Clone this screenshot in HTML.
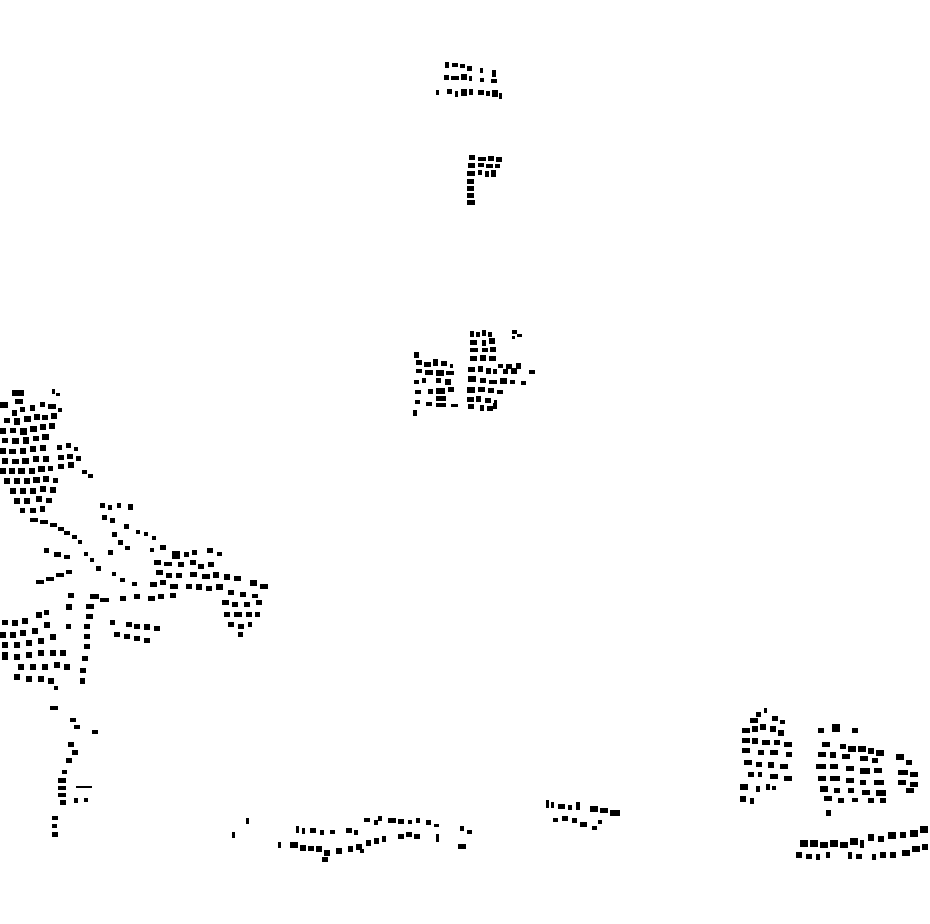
<!DOCTYPE html>
<html><head><meta charset="utf-8"><style>html,body{margin:0;padding:0;background:#fff}svg{display:block}</style></head>
<body>
<svg width="930" height="924" viewBox="0 0 930 924" xmlns="http://www.w3.org/2000/svg" fill="#000">
<!-- top cluster -->
<g>
<rect x="445" y="62" width="4" height="6"/><rect x="452" y="63" width="6" height="4"/><rect x="460" y="64" width="5" height="4"/><rect x="467" y="66" width="5" height="5"/><rect x="480" y="68" width="3" height="5"/><rect x="492" y="70" width="4" height="7"/>
<rect x="444" y="75" width="5" height="5"/><rect x="451" y="76" width="8" height="4"/><rect x="461" y="74" width="6" height="6"/><rect x="469" y="76" width="3" height="5"/><rect x="480" y="78" width="4" height="4"/><rect x="491" y="79" width="6" height="4"/>
<rect x="436" y="90" width="3" height="5"/><rect x="447" y="89" width="5" height="5"/><rect x="455" y="91" width="3" height="6"/><rect x="461" y="89" width="6" height="7"/><rect x="469" y="89" width="4" height="6"/><rect x="478" y="90" width="6" height="5"/><rect x="486" y="91" width="4" height="5"/><rect x="492" y="90" width="6" height="7"/><rect x="499" y="93" width="3" height="6"/>
</g>
<!-- second cluster -->
<g>
<rect x="469" y="155" width="6" height="5"/><rect x="478" y="157" width="8" height="4"/><rect x="488" y="156" width="6" height="5"/><rect x="496" y="157" width="6" height="5"/>
<rect x="468" y="163" width="7" height="5"/><rect x="478" y="163" width="6" height="4"/><rect x="486" y="164" width="7" height="4"/><rect x="495" y="164" width="5" height="4"/>
<rect x="467" y="171" width="8" height="5"/><rect x="478" y="170" width="4" height="5"/><rect x="485" y="171" width="4" height="6"/><rect x="491" y="170" width="5" height="7"/>
<rect x="467" y="179" width="7" height="5"/><rect x="467" y="186" width="7" height="5"/><rect x="467" y="193" width="7" height="5"/><rect x="467" y="200" width="8" height="5"/>
</g>
<!-- middle cluster -->
<g>
<rect x="470" y="331" width="4" height="6"/><rect x="476" y="332" width="4" height="5"/><rect x="482" y="330" width="4" height="6"/><rect x="488" y="332" width="4" height="5"/><rect x="512" y="330" width="5" height="4"/><rect x="517" y="334" width="5" height="3"/><rect x="512" y="336" width="3" height="3"/>
<rect x="414" y="352" width="5" height="6"/><rect x="470" y="340" width="7" height="5"/><rect x="482" y="340" width="4" height="6"/><rect x="489" y="338" width="6" height="6"/>
<rect x="470" y="348" width="8" height="4"/><rect x="482" y="348" width="6" height="4"/><rect x="490" y="347" width="6" height="5"/>
<rect x="416" y="360" width="6" height="5"/><rect x="424" y="362" width="7" height="5"/><rect x="433" y="359" width="5" height="7"/><rect x="441" y="361" width="6" height="5"/><rect x="450" y="364" width="3" height="4"/><rect x="470" y="356" width="7" height="5"/><rect x="480" y="355" width="6" height="6"/><rect x="489" y="356" width="7" height="5"/><rect x="498" y="364" width="5" height="4"/><rect x="506" y="364" width="6" height="5"/><rect x="516" y="363" width="5" height="6"/>
<rect x="416" y="369" width="6" height="4"/><rect x="425" y="370" width="8" height="5"/><rect x="436" y="370" width="8" height="6"/><rect x="446" y="371" width="8" height="4"/><rect x="468" y="367" width="7" height="5"/><rect x="478" y="366" width="5" height="6"/><rect x="486" y="368" width="5" height="6"/><rect x="493" y="369" width="4" height="5"/><rect x="503" y="369" width="5" height="5"/><rect x="511" y="368" width="6" height="6"/><rect x="529" y="370" width="6" height="4"/>
<rect x="414" y="380" width="5" height="4"/><rect x="422" y="378" width="4" height="5"/><rect x="436" y="378" width="5" height="5"/><rect x="445" y="379" width="6" height="6"/><rect x="468" y="376" width="8" height="6"/><rect x="480" y="378" width="6" height="5"/><rect x="489" y="380" width="8" height="4"/><rect x="500" y="378" width="7" height="6"/><rect x="510" y="380" width="5" height="4"/><rect x="521" y="381" width="5" height="4"/>
<rect x="415" y="390" width="6" height="4"/><rect x="428" y="389" width="5" height="5"/><rect x="436" y="388" width="9" height="6"/><rect x="448" y="387" width="6" height="5"/><rect x="467" y="387" width="8" height="6"/><rect x="478" y="387" width="7" height="5"/><rect x="488" y="388" width="6" height="5"/><rect x="497" y="390" width="6" height="4"/>
<rect x="415" y="400" width="5" height="4"/><rect x="426" y="402" width="6" height="4"/><rect x="436" y="396" width="10" height="5"/><rect x="451" y="404" width="7" height="3"/><rect x="467" y="397" width="7" height="5"/><rect x="476" y="396" width="5" height="6"/><rect x="485" y="398" width="6" height="5"/><rect x="494" y="400" width="3" height="4"/>
<rect x="413" y="410" width="4" height="6"/><rect x="436" y="403" width="10" height="4"/><rect x="468" y="404" width="6" height="5"/><rect x="480" y="405" width="4" height="6"/><rect x="487" y="406" width="6" height="5"/><rect x="493" y="403" width="4" height="6"/>
</g>
<!-- left big cluster -->
<g>
<rect x="12" y="390" width="12" height="6"/><rect x="0" y="402" width="8" height="6"/><rect x="15" y="399" width="8" height="5"/><rect x="52" y="389" width="3" height="5"/><rect x="56" y="393" width="4" height="3"/>
<rect x="12" y="410" width="5" height="6"/><rect x="20" y="407" width="5" height="5"/><rect x="30" y="405" width="5" height="6"/><rect x="40" y="402" width="5" height="5"/><rect x="48" y="404" width="8" height="5"/><rect x="58" y="408" width="4" height="4"/>
<rect x="4" y="418" width="6" height="5"/><rect x="14" y="418" width="6" height="7"/><rect x="24" y="416" width="7" height="6"/><rect x="34" y="414" width="6" height="6"/><rect x="42" y="415" width="6" height="5"/><rect x="51" y="413" width="6" height="6"/>
<rect x="0" y="428" width="6" height="6"/><rect x="10" y="428" width="6" height="5"/><rect x="20" y="428" width="7" height="7"/><rect x="30" y="426" width="7" height="6"/><rect x="40" y="424" width="6" height="6"/><rect x="49" y="423" width="6" height="6"/>
<rect x="2" y="438" width="6" height="5"/><rect x="12" y="438" width="7" height="6"/><rect x="23" y="437" width="6" height="7"/><rect x="33" y="436" width="6" height="5"/><rect x="42" y="434" width="7" height="6"/><rect x="57" y="445" width="5" height="5"/><rect x="66" y="443" width="5" height="5"/><rect x="74" y="447" width="4" height="4"/>
<rect x="0" y="448" width="6" height="6"/><rect x="9" y="449" width="7" height="5"/><rect x="20" y="448" width="6" height="6"/><rect x="30" y="446" width="6" height="6"/><rect x="40" y="445" width="6" height="6"/><rect x="58" y="455" width="6" height="5"/><rect x="67" y="454" width="6" height="5"/><rect x="76" y="456" width="5" height="5"/>
<rect x="2" y="458" width="6" height="6"/><rect x="12" y="459" width="7" height="5"/><rect x="22" y="458" width="7" height="6"/><rect x="33" y="456" width="6" height="6"/><rect x="43" y="456" width="6" height="6"/><rect x="58" y="464" width="6" height="5"/><rect x="68" y="462" width="6" height="6"/><rect x="82" y="470" width="5" height="4"/><rect x="88" y="474" width="5" height="4"/>
<rect x="0" y="468" width="6" height="6"/><rect x="9" y="468" width="6" height="6"/><rect x="18" y="468" width="7" height="6"/><rect x="29" y="468" width="6" height="6"/><rect x="38" y="466" width="7" height="6"/><rect x="48" y="466" width="5" height="5"/>
<rect x="4" y="478" width="6" height="6"/><rect x="14" y="478" width="6" height="6"/><rect x="24" y="478" width="6" height="6"/><rect x="33" y="477" width="7" height="6"/><rect x="43" y="476" width="6" height="6"/><rect x="53" y="478" width="5" height="5"/>
<rect x="10" y="488" width="6" height="6"/><rect x="20" y="488" width="6" height="6"/><rect x="30" y="488" width="6" height="6"/><rect x="40" y="486" width="6" height="6"/><rect x="50" y="487" width="6" height="6"/>
<rect x="14" y="498" width="6" height="6"/><rect x="24" y="498" width="6" height="6"/><rect x="36" y="496" width="6" height="6"/><rect x="46" y="498" width="6" height="5"/>
<rect x="20" y="508" width="5" height="5"/><rect x="30" y="508" width="6" height="5"/><rect x="40" y="506" width="5" height="6"/>
<rect x="30" y="518" width="8" height="4"/><rect x="40" y="520" width="8" height="4"/><rect x="50" y="523" width="7" height="4"/><rect x="58" y="527" width="6" height="4"/><rect x="64" y="531" width="6" height="4"/><rect x="72" y="535" width="5" height="4"/><rect x="78" y="540" width="4" height="4"/>
<rect x="100" y="503" width="5" height="5"/><rect x="108" y="505" width="4" height="5"/><rect x="117" y="503" width="4" height="5"/><rect x="128" y="504" width="5" height="6"/>
<rect x="102" y="515" width="5" height="5"/><rect x="110" y="518" width="5" height="5"/><rect x="124" y="524" width="5" height="5"/><rect x="136" y="530" width="4" height="4"/><rect x="144" y="532" width="4" height="4"/><rect x="152" y="536" width="4" height="4"/>
<rect x="112" y="532" width="5" height="5"/><rect x="118" y="540" width="5" height="5"/><rect x="125" y="546" width="5" height="4"/><rect x="150" y="548" width="4" height="4"/><rect x="160" y="545" width="6" height="5"/>
<rect x="44" y="548" width="5" height="5"/><rect x="54" y="552" width="7" height="5"/><rect x="64" y="555" width="6" height="4"/><rect x="84" y="552" width="4" height="4"/><rect x="90" y="558" width="4" height="4"/><rect x="108" y="550" width="5" height="5"/>
<rect x="172" y="551" width="8" height="8"/><rect x="184" y="552" width="5" height="5"/><rect x="192" y="550" width="5" height="5"/><rect x="207" y="548" width="6" height="5"/><rect x="217" y="552" width="5" height="4"/>
<rect x="154" y="560" width="7" height="5"/><rect x="164" y="562" width="8" height="4"/><rect x="178" y="562" width="6" height="5"/><rect x="190" y="560" width="6" height="5"/><rect x="198" y="564" width="6" height="5"/><rect x="208" y="562" width="6" height="5"/>
<rect x="36" y="580" width="8" height="4"/><rect x="46" y="577" width="8" height="4"/><rect x="56" y="573" width="8" height="4"/><rect x="66" y="570" width="6" height="4"/><rect x="96" y="566" width="5" height="5"/><rect x="112" y="572" width="4" height="4"/><rect x="120" y="578" width="5" height="4"/><rect x="132" y="582" width="5" height="4"/>
<rect x="156" y="570" width="7" height="5"/><rect x="166" y="573" width="6" height="5"/><rect x="176" y="573" width="6" height="5"/><rect x="190" y="572" width="7" height="5"/><rect x="202" y="574" width="8" height="5"/><rect x="213" y="572" width="6" height="6"/><rect x="224" y="574" width="6" height="6"/><rect x="234" y="576" width="7" height="5"/><rect x="250" y="580" width="7" height="6"/><rect x="260" y="584" width="8" height="5"/>
<rect x="150" y="582" width="7" height="5"/><rect x="160" y="580" width="6" height="5"/><rect x="170" y="584" width="8" height="5"/><rect x="186" y="584" width="6" height="5"/><rect x="196" y="584" width="6" height="6"/><rect x="206" y="586" width="6" height="5"/><rect x="216" y="584" width="7" height="6"/><rect x="228" y="590" width="6" height="5"/><rect x="240" y="592" width="6" height="5"/><rect x="252" y="594" width="6" height="4"/>
<rect x="90" y="594" width="9" height="5"/><rect x="100" y="598" width="9" height="4"/><rect x="68" y="593" width="6" height="5"/><rect x="120" y="596" width="6" height="5"/><rect x="134" y="594" width="6" height="5"/><rect x="148" y="596" width="7" height="5"/><rect x="158" y="594" width="6" height="5"/><rect x="170" y="593" width="6" height="5"/>
<rect x="222" y="600" width="7" height="5"/><rect x="232" y="602" width="6" height="5"/><rect x="244" y="602" width="6" height="5"/><rect x="256" y="600" width="6" height="5"/>
<rect x="66" y="604" width="6" height="6"/><rect x="86" y="604" width="8" height="5"/><rect x="224" y="612" width="6" height="5"/><rect x="234" y="612" width="8" height="5"/><rect x="246" y="612" width="6" height="5"/><rect x="255" y="612" width="5" height="5"/>
<rect x="2" y="620" width="6" height="5"/><rect x="12" y="620" width="6" height="6"/><rect x="22" y="618" width="6" height="6"/><rect x="36" y="612" width="6" height="6"/><rect x="44" y="610" width="5" height="5"/><rect x="86" y="614" width="7" height="5"/><rect x="110" y="620" width="5" height="5"/><rect x="126" y="622" width="6" height="5"/><rect x="134" y="624" width="6" height="5"/><rect x="144" y="624" width="6" height="6"/><rect x="154" y="626" width="6" height="5"/><rect x="228" y="622" width="6" height="5"/><rect x="238" y="624" width="6" height="5"/><rect x="248" y="622" width="4" height="5"/>
<rect x="0" y="632" width="6" height="6"/><rect x="10" y="632" width="6" height="6"/><rect x="20" y="630" width="6" height="6"/><rect x="32" y="628" width="6" height="6"/><rect x="44" y="622" width="6" height="6"/><rect x="66" y="624" width="5" height="5"/><rect x="84" y="624" width="6" height="5"/><rect x="114" y="632" width="6" height="5"/><rect x="124" y="634" width="6" height="5"/><rect x="134" y="636" width="6" height="5"/><rect x="144" y="638" width="6" height="5"/><rect x="238" y="632" width="5" height="5"/>
<rect x="2" y="642" width="6" height="6"/><rect x="14" y="642" width="6" height="6"/><rect x="26" y="640" width="6" height="6"/><rect x="38" y="638" width="6" height="6"/><rect x="50" y="634" width="6" height="6"/><rect x="84" y="634" width="6" height="5"/>
<rect x="2" y="652" width="6" height="8"/><rect x="14" y="654" width="6" height="6"/><rect x="26" y="652" width="6" height="6"/><rect x="38" y="650" width="6" height="6"/><rect x="50" y="650" width="6" height="6"/><rect x="60" y="650" width="6" height="6"/><rect x="84" y="644" width="6" height="5"/>
<rect x="18" y="664" width="6" height="6"/><rect x="30" y="664" width="6" height="6"/><rect x="42" y="664" width="6" height="6"/><rect x="54" y="662" width="6" height="6"/><rect x="64" y="664" width="6" height="6"/><rect x="82" y="656" width="6" height="5"/>
<rect x="14" y="674" width="6" height="6"/><rect x="26" y="676" width="6" height="6"/><rect x="38" y="676" width="6" height="6"/><rect x="48" y="678" width="6" height="6"/><rect x="80" y="668" width="6" height="5"/><rect x="80" y="678" width="5" height="6"/><rect x="54" y="686" width="4" height="4"/>
<!-- tail -->
<rect x="50" y="706" width="8" height="4"/><rect x="70" y="718" width="6" height="4"/><rect x="74" y="725" width="6" height="4"/><rect x="92" y="730" width="6" height="4"/>
<rect x="68" y="742" width="6" height="5"/><rect x="72" y="750" width="6" height="5"/><rect x="66" y="758" width="6" height="5"/><rect x="62" y="770" width="5" height="4"/>
<rect x="58" y="778" width="8" height="5"/><rect x="58" y="786" width="8" height="4"/><rect x="58" y="793" width="8" height="4"/><rect x="76" y="786" width="16" height="2"/><rect x="60" y="800" width="6" height="5"/><rect x="74" y="798" width="4" height="5"/><rect x="84" y="798" width="4" height="4"/>
<rect x="52" y="816" width="6" height="4"/><rect x="52" y="824" width="5" height="4"/><rect x="52" y="832" width="6" height="5"/>
</g>
<!-- bottom middle cluster -->
<g>
<rect x="246" y="818" width="3" height="6"/><rect x="232" y="832" width="3" height="6"/><rect x="278" y="842" width="3" height="6"/>
<rect x="296" y="826" width="3" height="7"/><rect x="302" y="828" width="3" height="6"/><rect x="310" y="828" width="6" height="5"/><rect x="320" y="830" width="4" height="5"/><rect x="330" y="830" width="5" height="4"/><rect x="346" y="828" width="6" height="5"/><rect x="354" y="830" width="4" height="5"/>
<rect x="364" y="818" width="6" height="4"/><rect x="374" y="820" width="4" height="5"/><rect x="378" y="816" width="4" height="5"/><rect x="388" y="818" width="8" height="5"/><rect x="398" y="819" width="6" height="5"/><rect x="408" y="820" width="4" height="4"/><rect x="416" y="818" width="4" height="5"/><rect x="426" y="820" width="5" height="5"/><rect x="434" y="824" width="5" height="3"/><rect x="460" y="826" width="4" height="5"/><rect x="467" y="830" width="5" height="4"/>
<rect x="290" y="842" width="8" height="6"/><rect x="300" y="845" width="6" height="6"/><rect x="308" y="846" width="6" height="5"/><rect x="316" y="846" width="6" height="6"/><rect x="324" y="850" width="6" height="6"/><rect x="336" y="848" width="6" height="6"/><rect x="348" y="846" width="5" height="6"/><rect x="356" y="844" width="6" height="6"/><rect x="366" y="840" width="5" height="6"/><rect x="374" y="838" width="5" height="6"/><rect x="382" y="836" width="4" height="6"/><rect x="398" y="834" width="6" height="5"/><rect x="406" y="832" width="6" height="5"/><rect x="414" y="834" width="6" height="5"/><rect x="436" y="834" width="3" height="8"/><rect x="458" y="844" width="8" height="5"/><rect x="322" y="857" width="6" height="5"/><rect x="360" y="849" width="4" height="4"/>
</g>
<!-- bottom center small cluster -->
<g>
<rect x="546" y="800" width="3" height="8"/><rect x="551" y="802" width="3" height="6"/><rect x="558" y="804" width="7" height="5"/><rect x="568" y="805" width="4" height="5"/><rect x="576" y="802" width="4" height="8"/><rect x="590" y="806" width="8" height="6"/><rect x="600" y="808" width="8" height="5"/><rect x="610" y="810" width="10" height="6"/>
<rect x="553" y="818" width="5" height="4"/><rect x="562" y="816" width="6" height="5"/><rect x="572" y="818" width="5" height="5"/><rect x="580" y="822" width="7" height="5"/><rect x="592" y="826" width="5" height="4"/><rect x="598" y="820" width="4" height="4"/>
</g>
<!-- right cluster -->
<g>
<rect x="756" y="712" width="5" height="5"/><rect x="764" y="708" width="3" height="5"/><rect x="772" y="716" width="6" height="5"/><rect x="780" y="720" width="5" height="4"/><rect x="750" y="718" width="8" height="5"/>
<rect x="742" y="728" width="8" height="5"/><rect x="752" y="726" width="6" height="6"/><rect x="760" y="724" width="6" height="6"/><rect x="770" y="726" width="6" height="6"/><rect x="778" y="730" width="6" height="6"/><rect x="832" y="724" width="8" height="8"/><rect x="852" y="728" width="6" height="5"/><rect x="818" y="728" width="6" height="5"/>
<rect x="742" y="738" width="8" height="5"/><rect x="752" y="738" width="6" height="6"/><rect x="762" y="740" width="8" height="5"/><rect x="774" y="740" width="6" height="5"/><rect x="784" y="742" width="8" height="5"/><rect x="822" y="742" width="8" height="5"/><rect x="840" y="744" width="6" height="5"/><rect x="848" y="746" width="8" height="6"/><rect x="858" y="746" width="8" height="6"/><rect x="868" y="748" width="6" height="6"/><rect x="876" y="750" width="8" height="6"/>
<rect x="742" y="748" width="8" height="5"/><rect x="758" y="750" width="6" height="5"/><rect x="770" y="750" width="8" height="5"/><rect x="786" y="752" width="6" height="5"/><rect x="818" y="752" width="8" height="5"/><rect x="830" y="752" width="6" height="6"/><rect x="842" y="754" width="8" height="5"/><rect x="860" y="756" width="8" height="5"/><rect x="872" y="758" width="6" height="5"/><rect x="896" y="754" width="8" height="6"/><rect x="906" y="760" width="6" height="5"/>
<rect x="744" y="760" width="8" height="5"/><rect x="756" y="762" width="6" height="5"/><rect x="768" y="762" width="6" height="6"/><rect x="780" y="764" width="8" height="5"/><rect x="816" y="764" width="10" height="5"/><rect x="830" y="764" width="8" height="5"/><rect x="846" y="766" width="8" height="5"/><rect x="860" y="768" width="10" height="6"/><rect x="874" y="768" width="8" height="5"/><rect x="898" y="770" width="10" height="5"/><rect x="910" y="772" width="8" height="5"/>
<rect x="748" y="772" width="6" height="5"/><rect x="758" y="772" width="4" height="5"/><rect x="770" y="774" width="8" height="5"/><rect x="784" y="776" width="8" height="5"/><rect x="818" y="776" width="8" height="5"/><rect x="830" y="776" width="10" height="5"/><rect x="846" y="778" width="8" height="5"/><rect x="860" y="780" width="6" height="5"/><rect x="874" y="780" width="10" height="5"/><rect x="898" y="780" width="8" height="5"/><rect x="910" y="782" width="8" height="5"/>
<rect x="740" y="784" width="8" height="6"/><rect x="756" y="786" width="4" height="6"/><rect x="766" y="784" width="4" height="6"/><rect x="772" y="786" width="4" height="4"/><rect x="820" y="786" width="8" height="6"/><rect x="834" y="788" width="6" height="5"/><rect x="848" y="788" width="6" height="5"/><rect x="862" y="790" width="8" height="5"/><rect x="876" y="790" width="10" height="6"/><rect x="906" y="788" width="8" height="5"/>
<rect x="740" y="796" width="6" height="6"/><rect x="750" y="798" width="4" height="6"/><rect x="824" y="796" width="8" height="5"/><rect x="838" y="798" width="6" height="5"/><rect x="852" y="798" width="6" height="4"/><rect x="868" y="798" width="6" height="5"/><rect x="880" y="798" width="6" height="5"/><rect x="826" y="810" width="5" height="6"/>
<rect x="800" y="840" width="8" height="7"/><rect x="810" y="840" width="8" height="7"/><rect x="820" y="842" width="8" height="6"/><rect x="830" y="840" width="8" height="7"/><rect x="840" y="842" width="8" height="6"/><rect x="850" y="838" width="8" height="7"/><rect x="860" y="840" width="4" height="8"/><rect x="868" y="834" width="6" height="7"/><rect x="878" y="836" width="6" height="6"/><rect x="888" y="832" width="8" height="7"/><rect x="900" y="832" width="6" height="6"/><rect x="910" y="830" width="8" height="7"/><rect x="920" y="826" width="8" height="7"/>
<rect x="796" y="852" width="6" height="6"/><rect x="806" y="854" width="6" height="5"/><rect x="816" y="854" width="4" height="6"/><rect x="826" y="852" width="4" height="6"/><rect x="848" y="852" width="4" height="7"/><rect x="856" y="854" width="6" height="5"/><rect x="872" y="854" width="4" height="6"/><rect x="880" y="852" width="6" height="6"/><rect x="890" y="852" width="6" height="6"/><rect x="902" y="850" width="8" height="6"/><rect x="912" y="846" width="8" height="6"/><rect x="922" y="844" width="6" height="6"/>
</g>
</svg>
</body></html>
